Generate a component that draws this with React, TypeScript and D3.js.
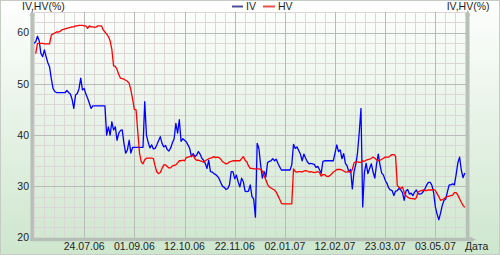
import React from 'react';
import * as d3 from 'd3';

// Implied volatility (IV), one value per trading day
const ivValues: number[] = [
  57.9, 58.2, 59.3, 58.4, 55.9, 55.3, 56.6, 55.3, 54.1, 53.3,
  51.0, 49.1, 48.5, 48.3, 48.3, 48.3, 48.3, 48.3, 48.3, 48.7,
  48.3, 48.0, 47.0, 45.2, 47.8, 48.1, 49.0, 51.1, 48.8, 49.1,
  48.0, 47.2, 46.2, 45.2, 45.7, 45.7, 45.7, 45.7, 45.7, 45.7,
  45.7, 45.7, 40.0, 41.6, 40.0, 42.6, 41.0, 41.6, 39.0, 40.4,
  40.9, 41.0, 38.4, 36.5, 37.1, 39.0, 36.5, 37.6, 37.6, 37.6,
  37.6, 37.6, 37.6, 37.6, 46.5, 40.0, 38.6, 37.5, 38.1, 37.3,
  37.4, 38.1, 38.9, 39.7, 38.4, 37.7, 38.0, 37.2, 36.9, 37.5,
  38.5, 39.3, 42.3, 40.4, 43.0, 38.8, 39.3, 39.0, 38.7, 38.1,
  37.4, 35.8, 36.4, 35.8, 36.1, 36.8, 36.3, 35.5, 35.1, 34.5,
  33.5, 35.1, 32.9, 32.8, 32.5, 32.3, 32.0, 31.5, 30.7, 30.0,
  29.8, 29.4, 29.6, 30.3, 32.9, 32.9, 31.5, 32.2, 30.9, 29.9,
  31.6, 30.9, 29.1, 29.0, 29.1, 30.3, 28.0, 27.5, 24.0, 38.4,
  37.4, 34.2, 31.6, 32.9, 31.8, 34.6, 34.9, 35.0, 35.4, 35.0,
  35.3, 34.5, 33.8, 33.2, 33.2, 33.2, 33.2, 33.2, 33.2, 34.2,
  38.2, 37.4, 37.7, 37.0, 36.3, 35.0, 36.3, 35.5, 34.8, 34.4,
  34.5, 34.4, 34.3, 33.7, 33.9, 33.3, 32.5, 34.9, 35.0, 35.0,
  35.0, 35.0, 35.0, 35.0, 36.5, 38.1, 36.8, 37.1, 35.4, 36.4,
  34.5, 34.0, 32.8, 33.3, 29.5, 32.9, 34.3, 36.5, 40.5, 45.2,
  26.0, 32.8, 34.5, 32.5, 33.5, 34.4, 32.8, 31.6, 34.3, 36.3,
  34.2, 32.6, 32.2, 31.2, 30.6, 29.7, 29.3, 29.2, 28.2, 29.1,
  29.2, 29.6, 29.3, 28.8, 27.3, 29.1, 29.4, 28.5, 28.7, 28.2,
  28.9, 29.3, 28.6, 28.5, 28.6, 29.0, 29.5, 30.3, 30.8, 30.8,
  30.2, 28.8, 26.0, 24.6, 23.5, 24.8, 26.3, 27.3, 27.5, 29.0,
  30.3, 30.3, 30.5, 30.3, 32.3, 34.6, 35.7, 33.2, 31.7, 32.6,
];

// Historical volatility (HV), one value per trading day (first day missing)
const hvValues: (number | null)[] = [
  null, 55.9, 57.9, 57.9, 57.9, 57.9, 57.8, 57.8, 57.8, 57.8,
  59.5, 59.7, 59.9, 60.1, 60.1, 60.2, 60.5, 60.6, 60.7, 60.8,
  60.9, 61.0, 61.1, 61.1, 61.3, 61.3, 61.4, 61.4, 61.4, 61.3,
  61.3, 60.8, 61.3, 61.1, 61.1, 61.0, 61.1, 61.3, 61.3, 61.3,
  60.5, 60.1, 59.7, 59.2, 58.4, 56.7, 53.5, 53.4, 52.8, 51.8,
  51.1, 51.0, 50.9, 50.7, 50.5, 50.1, 48.8, 47.0, 45.0, 44.9,
  40.6, 36.5, 34.8, 34.4, 35.2, 35.5, 35.5, 35.5, 35.5, 35.4,
  34.0, 32.8, 32.5, 32.7, 33.5, 34.2, 34.2, 33.9, 33.6, 33.6,
  34.0, 34.1, 34.2, 34.6, 35.0, 35.0, 35.1, 35.0, 35.6, 35.7,
  35.8, 35.9, 36.1, 35.4, 35.1, 35.1, 35.0, 34.9, 34.7, 35.0,
  35.2, 35.4, 35.5, 35.6, 35.8, 35.6, 35.7, 35.6, 35.3, 34.8,
  34.6, 34.4, 34.5, 34.8, 34.9, 35.0, 35.0, 35.0, 35.0, 35.0,
  35.4, 35.8, 35.1, 34.8, 34.0, 33.5, 33.5, 33.4, 33.4, 33.4,
  33.4, 33.3, 33.0, 32.1, 31.3, 30.4, 29.9, 29.7, 29.5, 29.3,
  28.9, 28.2, 27.5, 26.7, 26.6, 26.6, 26.6, 26.6, 26.6, 26.6,
  33.4, 32.9, 32.8, 32.9, 32.9, 32.8, 33.0, 33.1, 33.0, 32.8,
  32.9, 32.8, 32.7, 32.8, 32.9, 32.7, 32.0, 32.3, 32.3, 32.0,
  31.9, 32.1, 32.4, 32.8, 33.0, 33.3, 33.3, 33.3, 33.2, 33.0,
  32.8, 32.8, 33.0, 32.7, 33.3, 34.6, 34.8, 34.8, 34.7, 34.7,
  35.0, 34.9, 35.1, 35.2, 35.3, 35.5, 35.7, 35.5, 35.2, 35.0,
  35.1, 35.3, 35.5, 35.7, 35.7, 35.7, 36.0, 36.2, 36.2, 35.9,
  30.2, 29.8, 29.6, 29.9, 28.8, 28.2, 27.9, 27.7, 27.6, 27.6,
  27.5, 27.8, 28.9, 29.1, 29.2, 29.3, 29.2, 29.2, 29.3, 29.3,
  29.3, 29.4, 29.2, 28.6, 28.0, 27.3, 27.4, 27.6, 27.9, 28.0,
  28.1, 28.2, 28.3, 28.8, 28.8, 28.3, 27.6, 26.9, 26.3, 25.9,
];

// X axis: trading-day index of each labelled date
const tickDays = [29, 58, 87, 116, 145, 174, 203, 232];
const tickLabels = ['24.07.06', '01.09.06', '12.10.06', '22.11.06', '02.01.07', '12.02.07', '23.03.07', '03.05.07'];
const yMajorTicks = [20, 30, 40, 50, 60];
const seriesNames = ['IV', 'HV'];
const seriesColors = ['#0000ff', '#ff0000'];
const legendColors = ['#50509a', '#e85252'];
const yTitle = 'IV,HV(%)';
const xTitle = 'Дата';

const W = 500;
const H = 255;
const M = { left: 34, right: 466.5, top: 12, bottom: 237.7 };
const FONT = '"Liberation Sans", Arial, sans-serif';

export default function App() {
  const x = d3.scaleLinear().domain([0, 250]).range([M.left, M.right]);
  const y = d3.scaleLinear().domain([20, 64]).range([M.bottom, M.top]);

  const minorY = d3.range(20, 64.01, 2);
  const step = 29 / 5;
  const minorX: number[] = [];
  for (let k = -5; k < 45; k++) {
    const d = 29 + k * step;
    if (d >= 0 && d <= 250) minorX.push(d);
  }

  const line = d3
    .line<number | null>()
    .defined((d) => d != null)
    .x((_, i) => x(i))
    .y((d) => y(d as number));

  const xR = x(250);
  const axisColor = '#b6c0b6';

  return (
    <svg
      width={W}
      height={H}
      style={{ position: 'absolute', left: 0, top: 0, display: 'block' }}
      fontFamily={FONT}
    >
      <defs>
        <linearGradient id="bg" x1="0" y1="0" x2="0" y2="1">
          <stop offset="0" stopColor="#ffffff" />
          <stop offset="0.06" stopColor="#fbfdfb" />
          <stop offset="1" stopColor="#cee6ce" />
        </linearGradient>
      </defs>
      <rect x={0} y={0} width={W} height={H} fill="url(#bg)" />
      <rect x={0.5} y={0.5} width={W - 1} height={H - 1} fill="none" stroke="#c4ccc4" />

      {/* minor grid */}
      <g stroke="#ddd6d6" strokeWidth={1}>
        {minorY.map((v) => (
          <line key={'my' + v} x1={M.left} x2={xR} y1={Math.round(y(v)) + 0.5} y2={Math.round(y(v)) + 0.5} />
        ))}
        {minorX.map((d, i) => (
          <line key={'mx' + i} x1={Math.round(x(d)) + 0.5} x2={Math.round(x(d)) + 0.5} y1={M.top} y2={M.bottom} />
        ))}
      </g>
      {/* major grid */}
      <g stroke="#bababa" strokeWidth={1}>
        {yMajorTicks.map((v) => (
          <line key={'Y' + v} x1={M.left} x2={xR} y1={Math.round(y(v)) + 0.5} y2={Math.round(y(v)) + 0.5} />
        ))}
        {tickDays.map((d) => (
          <line key={'X' + d} x1={Math.round(x(d)) + 0.5} x2={Math.round(x(d)) + 0.5} y1={M.top} y2={M.bottom} />
        ))}
      </g>

      {/* series */}
      <path d={line(ivValues) || ''} fill="none" stroke={seriesColors[0]} strokeWidth={1.3} strokeLinejoin="round" />
      <path d={line(hvValues) || ''} fill="none" stroke={seriesColors[1]} strokeWidth={1.3} strokeLinejoin="round" />

      {/* axes */}
      <g fill={axisColor} stroke="none">
        <rect x={M.left - 3.6} y={M.top + 3} width={3.5} height={M.bottom - M.top + 0.3} />
        <polygon points={`${M.left - 1.85},${M.top - 2} ${M.left - 4.6},${M.top + 3.5} ${M.left + 0.9},${M.top + 3.5}`} />
        <rect x={xR - 0.5} y={M.top + 3} width={3.5} height={M.bottom - M.top + 0.3} />
        <polygon points={`${xR + 1.25},${M.top - 2} ${xR - 1.5},${M.top + 3.5} ${xR + 4},${M.top + 3.5}`} />
        <rect x={M.left - 3.6} y={M.bottom} width={xR - M.left + 7} height={3.5} />
        <polygon points={`${xR + 9.5},${M.bottom + 1.75} ${xR + 3.4},${M.bottom - 1} ${xR + 3.4},${M.bottom + 4.5}`} />
      </g>

      {/* y tick labels */}
      <g fontSize={10.5} fill="#1e1e1e" textAnchor="end">
        {yMajorTicks.map((v) => (
          <text key={'yl' + v} x={M.left - 5} y={y(v)} dy="0.36em">
            {v}
          </text>
        ))}
      </g>
      {/* x tick labels */}
      <g fontSize={10.5} fill="#1e1e1e" textAnchor="middle">
        {tickDays.map((d, i) => (
          <text key={'xl' + d} x={x(d)} y={250}>
            {tickLabels[i]}
          </text>
        ))}
      </g>
      <text x={465} y={250} fontSize={10.5} fill="#1e1e1e">
        {xTitle}
      </text>
      <text x={22} y={10} fontSize={10.5} fill="#1e1e1e">
        {yTitle}
      </text>
      <text x={489.5} y={10} fontSize={10.5} fill="#1e1e1e" textAnchor="end">
        {yTitle}
      </text>

      {/* legend */}
      <g fontSize={10.5} fill="#1e1e1e">
        <line x1={232} x2={243} y1={6.5} y2={6.5} stroke={legendColors[0]} strokeWidth={2} />
        <text x={246} y={10}>{seriesNames[0]}</text>
        <line x1={263} x2={275} y1={6.5} y2={6.5} stroke={legendColors[1]} strokeWidth={2} />
        <text x={278} y={10}>{seriesNames[1]}</text>
      </g>
    </svg>
  );
}
